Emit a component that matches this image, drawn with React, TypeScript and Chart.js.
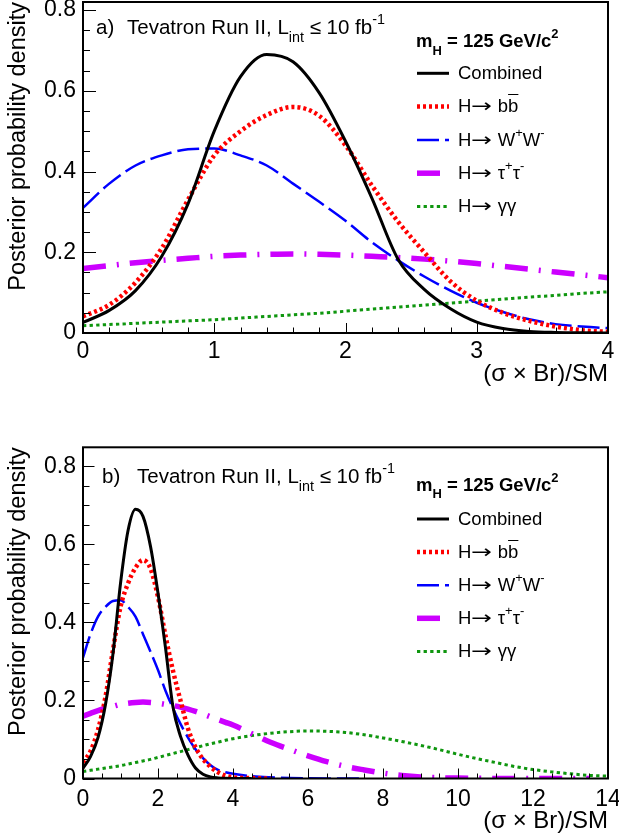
import React, { useEffect, useRef } from 'react';
import { Chart, registerables } from 'chart.js';

Chart.register(...registerables);

// ---------------- data ----------------
const X_VALUES = [
  0, 0.2, 0.4, 0.6, 0.8, 1.0, 1.2, 1.4, 1.6, 1.8, 2.0, 2.2, 2.4, 2.6, 2.8, 3.0, 3.2, 3.4, 3.6, 3.8, 4.0,
  4.5, 5.0, 5.5, 6.0, 6.5, 7.0, 7.5, 8.0, 8.5, 9.0, 9.5, 10.0, 10.5, 11.0, 11.5, 12.0, 12.5, 13.0, 13.5, 14.0,
];

const COMBINED = [
  0.026, 0.056, 0.105, 0.19, 0.32, 0.5, 0.635, 0.69, 0.672, 0.595, 0.475, 0.335, 0.183, 0.108, 0.06, 0.027,
  0.011, 0.004, 0.0015, 0.0005, 0.0002, 0,
];

const H_BB = [
  0.041, 0.07, 0.125, 0.21, 0.33, 0.44, 0.5, 0.54, 0.56, 0.538, 0.465, 0.366, 0.276, 0.2, 0.128, 0.08,
  0.05, 0.03, 0.016, 0.007, 0.003, 0.001, 0,
];

const H_WW = [
  0.31, 0.37, 0.415, 0.44, 0.455, 0.457, 0.44, 0.415, 0.37, 0.325, 0.278, 0.225, 0.18, 0.14, 0.105, 0.075,
  0.052, 0.034, 0.022, 0.016, 0.012, 0.006, 0.003, 0.0012, 0.0005, 0.0002, 0.0001, 0,
];

const H_TAUTAU = [
  0.16, 0.167, 0.174, 0.18, 0.185, 0.19, 0.193, 0.195, 0.196, 0.195, 0.193, 0.19, 0.187, 0.183, 0.178, 0.172,
  0.165, 0.158, 0.151, 0.144, 0.137, 0.115, 0.093, 0.075, 0.058, 0.043, 0.031, 0.022, 0.014, 0.008, 0.004,
  0.002, 0.001, 0.0005, 0.0002, 0.0001, 0, 0, 0, 0,
];

const H_GAMMAGAMMA = [
  0.018, 0.021, 0.024, 0.027, 0.03, 0.033, 0.037, 0.041, 0.045, 0.049, 0.054, 0.059, 0.064, 0.069, 0.074,
  0.079, 0.084, 0.089, 0.093, 0.098, 0.102, 0.11, 0.116, 0.12, 0.122, 0.121, 0.118, 0.112, 0.104, 0.095,
  0.085, 0.074, 0.062, 0.051, 0.041, 0.031, 0.023, 0.017, 0.012, 0.008, 0.006,
];

const SERIES_LABELS = ['Combined', 'H→ bb̄', 'H→ W+W-', 'H→ τ+τ-', 'H→ γγ'];
const SERIES_VALUES = [COMBINED, H_BB, H_WW, H_TAUTAU, H_GAMMAGAMMA];

const Y_TICKS = [0, 0.2, 0.4, 0.6, 0.8];
const X_TICKS_A = [0, 1, 2, 3, 4];
const X_TICKS_B = [0, 2, 4, 6, 8, 10, 12, 14];

const X_TITLE = '(σ × Br)/SM';
const Y_TITLE = 'Posterior probability density';

// ---------------- styles ----------------
const FONT = '"Liberation Sans", Arial, Helvetica, sans-serif';

const STYLES = [
  { color: '#000000', width: 3, dash: [] as number[] },
  { color: '#ff0000', width: 4.5, dash: [3, 3] },
  { color: '#0000ff', width: 2.5, dash: [22, 6] },
  { color: '#cc00ff', width: 5.5, dash: [23, 11, 2, 11] },
  { color: '#0f960f', width: 3, dash: [3.3, 3.3] },
];

type PanelCfg = {
  top: number;
  height: number;
  padTop: number;
  xAxisH: number;
  xMax: number;
  yMax: number;
  xTicks: number[];
  xMinor: number;
  xMajor: number;
  yMajorLen: number;
  yMinorLen: number;
  xMajorLen: number;
  xMinorLen: number;
  tickPad: number;
  xTitlePad: number;
  tag: string;
  tagX: number;
  titleX: number;
  titleY: number;
  mhY: number;
  legY0: number;
  legStep: number;
};

const PANEL_A: PanelCfg = {
  top: 0, height: 400, padTop: 2, xAxisH: 67, xMax: 4, yMax: 0.82,
  xTicks: X_TICKS_A, xMinor: 0.2, xMajor: 1,
  yMajorLen: 13, yMinorLen: 7, xMajorLen: 10, xMinorLen: 5.5,
  tickPad: 5, xTitlePad: 11,
  tag: 'a)', tagX: 96, titleX: 127, titleY: 27.3, mhY: 41.7, legY0: 73.3, legStep: 33.3,
};

const PANEL_B: PanelCfg = {
  top: 420, height: 417, padTop: 27.3, xAxisH: 58.5, xMax: 14, yMax: 0.849,
  xTicks: X_TICKS_B, xMinor: 0.5, xMajor: 2,
  yMajorLen: 11.5, yMinorLen: 6.5, xMajorLen: 10, xMinorLen: 5,
  tickPad: 7.5, xTitlePad: 1.5,
  tag: 'b)', tagX: 102, titleX: 137, titleY: 476, mhY: 485, legY0: 519, legStep: 33.1,
};

const LEG_X0 = 417;
const LEG_X1 = 449;
const LEG_TEXT_X = 458;

const frameTicksPlugin = {
  id: 'frameTicks',
  afterDatasetsDraw(chart: any, _args: any, opts: any) {
    const { ctx, chartArea: a, scales } = chart;
    const x = scales.x;
    const y = scales.y;
    ctx.save();
    ctx.strokeStyle = '#000';
    ctx.setLineDash([]);
    ctx.lineWidth = 1;
    ctx.beginPath();
    const nx = Math.round(opts.xMax / opts.xMinor);
    for (let i = 0; i <= nx; i++) {
      const v = i * opts.xMinor;
      const r = v / opts.xMajor;
      const major = Math.abs(r - Math.round(r)) < 1e-6;
      const px = Math.round(x.getPixelForValue(v)) + 0.5;
      ctx.moveTo(px, a.bottom);
      ctx.lineTo(px, a.bottom - (major ? opts.xMajorLen : opts.xMinorLen));
    }
    const ny = Math.floor(opts.yMax / 0.05 + 1e-6);
    for (let i = 0; i <= ny; i++) {
      const v = i * 0.05;
      const major = i % 4 === 0;
      const py = Math.round(y.getPixelForValue(v)) + 0.5;
      ctx.moveTo(a.left, py);
      ctx.lineTo(a.left + (major ? opts.yMajorLen : opts.yMinorLen), py);
    }
    ctx.stroke();
    ctx.lineWidth = 2;
    ctx.strokeRect(a.left, a.top, a.right - a.left, a.bottom - a.top);

    // legend line samples
    chart.data.datasets.forEach((ds: any, i: number) => {
      const yy = opts.legY0 + i * opts.legStep;
      ctx.beginPath();
      ctx.strokeStyle = ds.borderColor;
      ctx.lineWidth = ds.borderWidth;
      ctx.setLineDash(ds.borderDash || []);
      ctx.lineCap = 'butt';
      ctx.moveTo(LEG_X0, yy);
      ctx.lineTo(LEG_X1, yy);
      ctx.stroke();
    });
    ctx.restore();
  },
};

const Sup = ({ children }: { children: React.ReactNode }) => (
  <span style={{ fontSize: '0.7em', position: 'relative', top: '-0.7em' }}>{children}</span>
);
const Sub = ({ children }: { children: React.ReactNode }) => (
  <span style={{ fontSize: '0.7em', position: 'relative', top: '0.55em' }}>{children}</span>
);
const Arrow = () => (
  <span style={{ display: 'inline-block', width: '1.15em', overflow: 'visible' }}>
    <span
      style={{
        display: 'inline-block',
        fontFamily: '"DejaVu Sans", sans-serif',
        transform: 'scaleX(1.35)',
        transformOrigin: 'left center',
      }}
    >
      →
    </span>
  </span>
);

const LEGEND_JSX = [
  <>Combined</>,
  <>H<Arrow /> b<span style={{ textDecoration: 'overline' }}>b</span></>,
  <>H<Arrow /> W<Sup>+</Sup>W<Sup>-</Sup></>,
  <>H<Arrow /> τ<Sup>+</Sup>τ<Sup>-</Sup></>,
  <>H<Arrow /> γγ</>,
];

const textStyle = (left: number, centerY: number, size: number, bold = false): React.CSSProperties => ({
  position: 'absolute',
  left,
  top: centerY - size * 0.5,
  fontSize: size,
  fontFamily: FONT,
  fontWeight: bold ? 'bold' : 'normal',
  lineHeight: 1,
  whiteSpace: 'nowrap',
  color: '#000',
});

function Panel({ cfg }: { cfg: PanelCfg }) {
  const ref = useRef<HTMLCanvasElement>(null);

  useEffect(() => {
    const datasets = SERIES_VALUES.map((vals, i) => ({
      label: SERIES_LABELS[i],
      data: vals.map((v, j) => ({ x: X_VALUES[j], y: v })),
      borderColor: STYLES[i].color,
      backgroundColor: STYLES[i].color,
      borderWidth: STYLES[i].width,
      borderDash: STYLES[i].dash,
      borderCapStyle: 'butt' as const,
      pointRadius: 0,
      fill: false,
      cubicInterpolationMode: 'monotone' as const,
    }));

    const chart = new Chart(ref.current as HTMLCanvasElement, {
      type: 'line',
      data: { datasets },
      plugins: [frameTicksPlugin],
      options: {
        responsive: false,
        animation: false,
        events: [],
        layout: { padding: { top: cfg.padTop, right: 11, left: 0, bottom: 0 } },
        plugins: {
          legend: { display: false },
          tooltip: { enabled: false },
          frameTicks: {
            xMax: cfg.xMax,
            yMax: cfg.yMax,
            xMinor: cfg.xMinor,
            xMajor: cfg.xMajor,
            xMajorLen: cfg.xMajorLen,
            xMinorLen: cfg.xMinorLen,
            yMajorLen: cfg.yMajorLen,
            yMinorLen: cfg.yMinorLen,
            legY0: cfg.legY0 - cfg.top,
            legStep: cfg.legStep,
          },
        } as any,
        scales: {
          x: {
            type: 'linear',
            min: 0,
            max: cfg.xMax,
            afterFit: (s: any) => {
              s.height = cfg.xAxisH;
              s.paddingLeft = 0;
              s.paddingRight = 0;
            },
            afterBuildTicks: (s: any) => {
              s.ticks = cfg.xTicks.map((v) => ({ value: v }));
            },
            grid: { display: false, drawTicks: false },
            border: { display: false },
            ticks: {
              color: '#000',
              font: { family: FONT, size: 23 },
              padding: cfg.tickPad,
              maxRotation: 0,
              autoSkip: false,
              callback: (v: any) => String(v),
            },
            title: {
              display: true,
              text: X_TITLE,
              align: 'end',
              color: '#000',
              font: { family: FONT, size: 24 },
              padding: { top: 0, bottom: cfg.xTitlePad },
            },
          },
          y: {
            type: 'linear',
            min: 0,
            max: cfg.yMax,
            afterFit: (s: any) => {
              s.width = 83;
              s.paddingTop = 0;
              s.paddingBottom = 0;
            },
            afterBuildTicks: (s: any) => {
              s.ticks = Y_TICKS.map((v) => ({ value: v }));
            },
            grid: { display: false, drawTicks: false },
            border: { display: false },
            ticks: {
              color: '#000',
              font: { family: FONT, size: 23 },
              padding: 7,
              callback: (v: any) => String(v),
            },
            title: {
              display: true,
              text: Y_TITLE,
              align: 'end',
              color: '#000',
              font: { family: FONT, size: 23.5 },
              padding: { top: 4, bottom: 0 },
            },
          },
        } as any,
      },
    });
    return () => chart.destroy();
  }, [cfg]);

  return (
    <>
      <canvas
        ref={ref}
        width={619}
        height={cfg.height}
        style={{ position: 'absolute', left: 0, top: cfg.top, width: 619, height: cfg.height }}
      />
      <div style={textStyle(cfg.tagX, cfg.titleY, 20.5)}>{cfg.tag}</div>
      <div style={textStyle(cfg.titleX, cfg.titleY, 20.5)}>
        Tevatron Run II, L<Sub>int</Sub> ≤ 10 fb<Sup>-1</Sup>
      </div>
      <div style={textStyle(416, cfg.mhY, 18.5, true)}>
        m<Sub>H</Sub> = 125 GeV/c<Sup>2</Sup>
      </div>
      {LEGEND_JSX.map((el, i) => (
        <div key={i} style={textStyle(LEG_TEXT_X, cfg.legY0 + i * cfg.legStep, 18.5)}>
          {el}
        </div>
      ))}
    </>
  );
}

export default function App() {
  return (
    <div
      style={{
        position: 'absolute',
        left: 0,
        top: 0,
        width: 619,
        height: 837,
        background: '#fff',
        overflow: 'hidden',
      }}
    >
      <Panel cfg={PANEL_A} />
      <Panel cfg={PANEL_B} />
    </div>
  );
}
